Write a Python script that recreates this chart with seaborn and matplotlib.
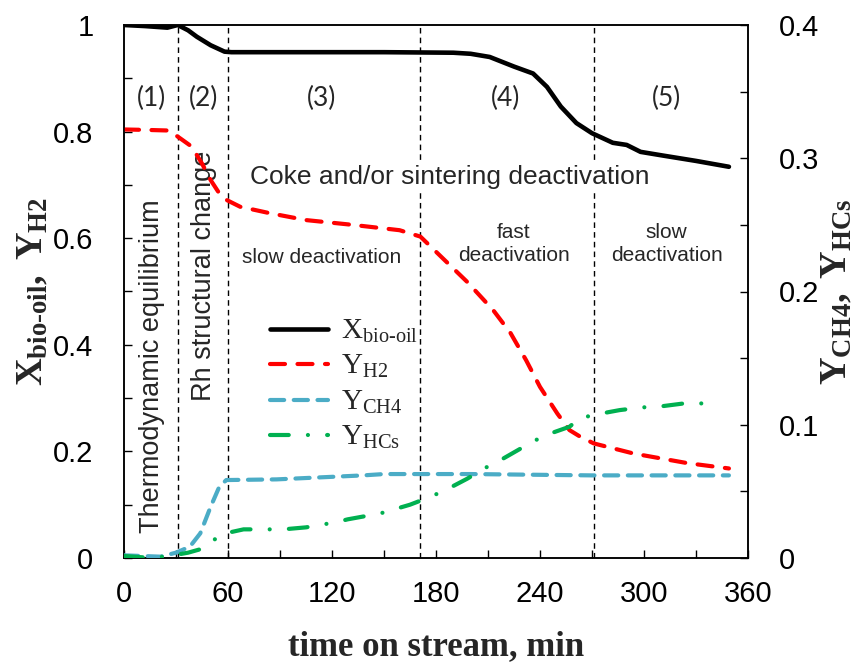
import numpy as np
import pandas as pd
import matplotlib
matplotlib.use("Agg")
import matplotlib.pyplot as plt
import seaborn as sns
from matplotlib.ticker import MultipleLocator, FixedLocator, FixedFormatter

# ---------------- data ----------------
t_x = [0, 12, 25, 31, 37, 42, 50, 58, 62, 100, 150, 190, 200, 211, 225, 236, 244, 252, 261, 270, 282, 290, 298, 311, 330, 349]
x_bio = [1.0, 0.998, 0.995, 1.0, 0.99, 0.978, 0.962, 0.95, 0.949, 0.949, 0.949, 0.948, 0.946, 0.94, 0.922, 0.909, 0.884, 0.847, 0.816, 0.797, 0.779, 0.775, 0.762, 0.755, 0.745, 0.734]

t_h2 = [0, 15, 26, 33, 39, 45, 50, 55, 59, 67, 84, 105, 132, 159, 171, 184, 198, 213, 223, 232, 240, 250, 257, 263, 271, 294, 325, 349]
y_h2 = [0.804, 0.803, 0.802, 0.786, 0.772, 0.74, 0.709, 0.684, 0.672, 0.659, 0.647, 0.634, 0.625, 0.615, 0.603, 0.562, 0.518, 0.465, 0.422, 0.371, 0.321, 0.271, 0.24, 0.228, 0.215, 0.196, 0.178, 0.168]

t_ch4 = [0, 21, 30, 38, 44, 50, 55, 59, 88, 138, 150, 200, 270, 349]
y_ch4 = [0.002, 0.001, 0.004, 0.0085, 0.0185, 0.0385, 0.0535, 0.0585, 0.059, 0.062, 0.063, 0.063, 0.062, 0.062]

t_hcs = [0, 11, 24, 37, 46, 56, 69, 92, 105, 123, 129, 148, 165, 177, 187, 198, 209, 219, 230, 242, 257, 263, 276, 286, 299, 311, 323, 336]
y_hcs = [0.0015, 0.0005, 0.001, 0.004, 0.0073, 0.0178, 0.0215, 0.0215, 0.023, 0.027, 0.029, 0.0335, 0.040, 0.046, 0.052, 0.0595, 0.068, 0.0748, 0.083, 0.0916, 0.0985, 0.105, 0.1086, 0.111, 0.113, 0.114, 0.116, 0.116]

boundaries = [31, 60, 171, 271]
stage_labels = ["(1)", "(2)", "(3)", "(4)", "(5)"]
stage_x = [16, 46, 114, 220, 313]

x_ticks = [0, 60, 120, 180, 240, 300, 360]
left_ticks = [0, 0.2, 0.4, 0.6, 0.8, 1.0]
left_tick_labels = ["0", "0.2", "0.4", "0.6", "0.8", "1"]
right_ticks = [0, 0.1, 0.2, 0.3, 0.4]
right_tick_labels = ["0", "0.1", "0.2", "0.3", "0.4"]

# ---------------- style ----------------
sns.set_style("ticks")
plt.rcParams["font.family"] = ["Liberation Sans", "DejaVu Sans"]
plt.rcParams["mathtext.fontset"] = "custom"
plt.rcParams["mathtext.rm"] = "Liberation Serif"
plt.rcParams["mathtext.bf"] = "Liberation Serif:bold"
plt.rcParams["mathtext.it"] = "Liberation Serif:italic"

fig = plt.figure(figsize=(8.65, 6.66), dpi=100)
ax = fig.add_axes([124/865, 1-558/666, (748-124)/865, (558-25)/666])
ax2 = ax.twinx()

df_x = pd.DataFrame({"t": t_x, "v": x_bio})
df_h2 = pd.DataFrame({"t": t_h2, "v": y_h2})
df_ch4 = pd.DataFrame({"t": t_ch4, "v": y_ch4})
df_hcs = pd.DataFrame({"t": t_hcs, "v": y_hcs})

sns.lineplot(data=df_x, x="t", y="v", ax=ax, color="black", linewidth=3.3, zorder=5)
l_x = ax.lines[-1]
l_x.set_solid_capstyle("round")
sns.lineplot(data=df_h2, x="t", y="v", ax=ax, color="#FF0000", linewidth=3.0, zorder=5)
l_h2 = ax.lines[-1]
l_h2.set_dashes([3.6, 3.0])
l_h2.set_dash_capstyle("round")

sns.lineplot(data=df_ch4, x="t", y="v", ax=ax2, color="#4BACC6", linewidth=3.0, zorder=5)
l_ch4 = ax2.lines[-1]
l_ch4.set_dashes([3.4, 2.3])
l_ch4.set_dash_capstyle("round")
sns.lineplot(data=df_hcs, x="t", y="v", ax=ax2, color="#00B050", linewidth=3.0, zorder=5)
l_hcs = ax2.lines[-1]
l_hcs.set_dashes([4.5, 4.6, 0.01, 4.6])
l_hcs.set_dash_capstyle("round")

for b in boundaries:
    ax.axvline(b, color="black", linewidth=1.0, dashes=(4, 3), zorder=2)

ax.set_xlim(0, 360)
ax.set_ylim(0, 1)
ax2.set_ylim(0, 0.4)

ax.xaxis.set_major_locator(FixedLocator(x_ticks))
ax.xaxis.set_minor_locator(MultipleLocator(30))
ax.yaxis.set_major_locator(FixedLocator(left_ticks))
ax.yaxis.set_major_formatter(FixedFormatter(left_tick_labels))
ax.yaxis.set_minor_locator(MultipleLocator(0.1))
ax2.yaxis.set_major_locator(FixedLocator(right_ticks))
ax2.yaxis.set_major_formatter(FixedFormatter(right_tick_labels))
ax2.yaxis.set_minor_locator(MultipleLocator(0.05))

for a in (ax, ax2):
    a.tick_params(which="both", direction="in", length=6, width=1.0, labelsize=21, colors="black")
ax.tick_params(axis="x", which="both", pad=16, top=False)
ax.tick_params(axis="y", which="both", pad=22, right=False)
ax2.tick_params(axis="y", which="both", pad=22)
for a in (ax, ax2):
    for s in a.spines.values():
        s.set_color("black")
        s.set_linewidth(1.1)
        s.set_visible(True)

ax.set_xlabel("time on stream, min", fontsize=25, fontweight="bold", family="Liberation Serif", labelpad=16)
ax.set_ylabel(r"$\mathbf{X}_{\mathbf{bio‐oil}}\mathbf{,\ Y}_{\mathbf{H2}}$", fontsize=27.5, labelpad=2)
ax2.set_ylabel(r"$\mathbf{Y}_{\mathbf{CH4}}\mathbf{,\ Y}_{\mathbf{HCs}}$", fontsize=27.5, labelpad=0)

# annotations
for lab, xs in zip(stage_labels, stage_x):
    ax.text(xs, 0.862, lab, fontsize=19, family=["Lato", "DejaVu Sans"], ha="center", va="center")

ax.text(16, 0.36, "Thermodynamic equilibrium", rotation=90, fontsize=19.5, ha="center", va="center")
ax.text(46, 0.53, "Rh structural change", rotation=90, fontsize=19.5, ha="center", va="center")
ax.text(188, 0.715, "Coke and/or sintering deactivation", fontsize=19, ha="center", va="center",
        bbox=dict(facecolor="white", edgecolor="none", pad=1), zorder=3)
ax.text(114, 0.563, "slow deactivation", fontsize=15, ha="center", va="center")
ax.text(225, 0.589, "fast\ndeactivation", fontsize=15, ha="center", va="center", linespacing=1.25)
ax.text(313, 0.589, "slow\ndeactivation", fontsize=15, ha="center", va="center", linespacing=1.25)

handles = [l_x, l_h2, l_ch4, l_hcs]
labels = [r"$\mathrm{X}_{\mathrm{bio‐oil}}$", r"$\mathrm{Y}_{\mathrm{H2}}$",
          r"$\mathrm{Y}_{\mathrm{CH4}}$", r"$\mathrm{Y}_{\mathrm{HCs}}$"]
leg = ax.legend(handles, labels, loc="upper left", bbox_to_anchor=(0.21, 0.48), frameon=False,
                fontsize=21, handlelength=2.0, handletextpad=0.45, labelspacing=0.25, borderpad=0)
leg.set_zorder(10)

fig.savefig("out.png", dpi=100)
